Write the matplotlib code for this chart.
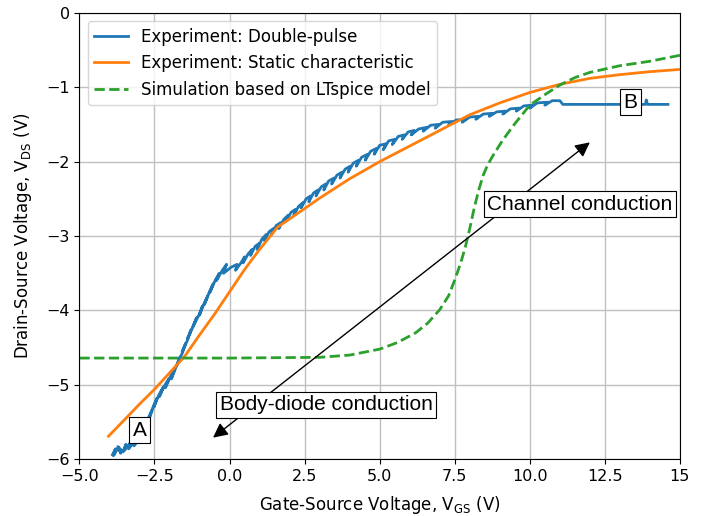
import matplotlib
matplotlib.use('Agg')
from matplotlib import pyplot as plt

# static characteristic (orange)
static_vgs = [-4.03, -3.5, -3.0, -2.5, -2.0, -1.5, -1.0, -0.5, 0.0, 0.5, 1.0, 1.6,
              2.0, 2.5, 3.0, 4.0, 5.0, 6.0, 7.0, 8.0, 9.0, 10.0, 11.0, 12.0, 13.0,
              14.0, 15.0]
static_vds = [-5.69, -5.47, -5.26, -5.06, -4.84, -4.62, -4.33, -4.05, -3.75, -3.45,
              -3.18, -2.88, -2.77, -2.63, -2.49, -2.23, -2.00, -1.79, -1.58, -1.37,
              -1.21, -1.07, -0.96, -0.88, -0.83, -0.79, -0.76]

# LTspice simulation (green dashed)
sim_vgs = [-5.0, 0.0, 3.0, 4.0, 5.0, 5.6, 6.2, 6.6, 7.0, 7.3, 7.5, 7.7, 7.85, 8.0,
           8.15, 8.3, 8.45, 8.6, 8.8, 9.1, 9.5, 10.0, 10.5, 11.0, 11.5, 12.0, 13.0,
           14.0, 15.0]
sim_vds = [-4.64, -4.64, -4.63, -4.60, -4.52, -4.43, -4.30, -4.17, -3.99, -3.80,
           -3.59, -3.36, -3.15, -2.90, -2.62, -2.38, -2.18, -2.04, -1.90, -1.71,
           -1.49, -1.24, -1.10, -0.97, -0.87, -0.80, -0.71, -0.65, -0.57]

# double-pulse measurement (blue, noisy)
dp_vgs = [-3.90, -3.80, -3.86, -3.70, -3.62, -3.72, -3.55, -3.45, -3.52, -3.38, -3.28, -3.36,
          -3.20, -3.10, -3.18, -3.02, -2.96, -3.04,
          -2.90, -2.76, -2.86, -2.70, -2.58, -2.70, -2.55, -2.42, -2.52, -2.36, -2.22, -2.34,
          -2.18, -2.02, -2.14, -1.96, -1.84, -1.94, -1.76, -1.64, -1.76, -1.58, -1.46, -1.58,
          -1.40, -1.28, -1.40, -1.22, -1.10, -1.22, -1.02, -0.90, -1.00, -0.84, -0.72, -0.84,
          -0.66, -0.54, -0.66, -0.46, -0.34, -0.44, -0.24, -0.10, -0.20,
          0.05, 0.25, 0.20, 0.38, 0.50, 0.45, 0.62, 0.75, 0.70, 0.85, 0.98, 0.92,
          1.08, 1.22, 1.16, 1.32, 1.46, 1.40, 1.55, 1.70, 1.64, 1.80, 1.95, 1.88,
          2.05, 2.20, 2.14, 2.30, 2.45, 2.38, 2.55, 2.70, 2.64, 2.80, 2.95, 2.88,
          3.05, 3.20, 3.14, 3.30, 3.48, 3.40, 3.58, 3.75, 3.68, 3.85, 4.02, 3.95,
          4.12, 4.30, 4.22, 4.40, 4.60, 4.52, 4.70, 4.90, 4.82, 5.00, 5.20, 5.12,
          5.30, 5.50, 5.42, 5.62, 5.82, 5.75, 5.95, 6.15, 6.05, 6.30, 6.55, 6.45,
          6.70, 6.95, 6.85, 7.10, 7.40, 7.30, 7.55, 7.85, 7.75, 8.00, 8.30, 8.20,
          8.45, 8.75, 8.65, 8.90, 9.20, 9.10, 9.35, 9.65, 9.55, 9.80, 10.10, 10.00,
          10.25, 10.60, 10.50, 10.75, 11.00, 11.10, 13.85, 13.88, 13.92, 14.60]
dp_vds = [-5.94, -5.86, -5.95, -5.84, -5.92, -5.83, -5.90, -5.80, -5.89, -5.82, -5.76, -5.86,
          -5.78, -5.72, -5.82, -5.74, -5.64, -5.76,
          -5.66, -5.52, -5.62, -5.44, -5.34, -5.48, -5.30, -5.18, -5.30, -5.14, -5.04, -5.16,
          -5.02, -4.92, -5.04, -4.88, -4.80, -4.92, -4.74, -4.62, -4.74, -4.58, -4.44, -4.56,
          -4.40, -4.26, -4.38, -4.22, -4.10, -4.22, -4.06, -3.94, -4.06, -3.90, -3.80, -3.92,
          -3.74, -3.64, -3.76, -3.58, -3.50, -3.60, -3.46, -3.38, -3.50,
          -3.42, -3.38, -3.46, -3.36, -3.28, -3.36, -3.24, -3.18, -3.26, -3.14, -3.10, -3.18,
          -3.04, -2.98, -3.06, -2.94, -2.90, -2.98, -2.86, -2.82, -2.90, -2.78, -2.72, -2.80,
          -2.68, -2.64, -2.72, -2.60, -2.55, -2.62, -2.50, -2.46, -2.54, -2.42, -2.38, -2.46,
          -2.34, -2.30, -2.38, -2.26, -2.22, -2.30, -2.18, -2.14, -2.22, -2.10, -2.06, -2.14,
          -2.02, -1.98, -2.06, -1.94, -1.90, -1.98, -1.86, -1.82, -1.90, -1.78, -1.76, -1.84,
          -1.72, -1.70, -1.77, -1.66, -1.64, -1.70, -1.60, -1.58, -1.64, -1.56, -1.54, -1.59,
          -1.51, -1.50, -1.55, -1.47, -1.46, -1.50, -1.44, -1.43, -1.47, -1.40, -1.39, -1.43,
          -1.36, -1.35, -1.39, -1.33, -1.32, -1.36, -1.29, -1.28, -1.32, -1.25, -1.24, -1.28,
          -1.21, -1.20, -1.24, -1.18, -1.18, -1.23, -1.23, -1.17, -1.23, -1.23]

x_ticks = [-5.0, -2.5, 0.0, 2.5, 5.0, 7.5, 10.0, 12.5, 15.0]
x_tick_labels = ['\u22125.0', '\u22122.5', '0.0', '2.5', '5.0', '7.5', '10.0', '12.5', '15']
y_ticks = [0, -1, -2, -3, -4, -5, -6]

fig = plt.figure(figsize=(7.09, 5.16), dpi=100)
ax = fig.add_axes([0.112, 0.110, 0.847, 0.865])

ax.plot(dp_vgs, dp_vds, color='#1f77b4', lw=2, label='Experiment: Double-pulse')
ax.plot(static_vgs, static_vds, color='#ff7f0e', lw=2, label='Experiment: Static characteristic')
ax.plot(sim_vgs, sim_vds, '--', color='#2ca02c', lw=2, label='Simulation based on LTspice model')

ax.set_xlim(-5, 15)
ax.set_ylim(-6, 0)
ax.set_xticks(x_ticks)
ax.set_xticklabels(x_tick_labels)
ax.set_yticks(y_ticks)
ax.tick_params(labelsize=11.5)
ax.grid(True, color='#c0c0c0', lw=1)
ax.set_xlabel(r'Gate-Source Voltage, V$_{\mathrm{GS}}$ (V)', fontsize=12, labelpad=7)
ax.set_ylabel(r'Drain-Source Voltage, V$_{\mathrm{DS}}$ (V)', fontsize=12, labelpad=9)
ax.legend(loc='upper left', fontsize=12)

# annotations drawn on top
ax.annotate('', xy=(12.0, -1.74), xytext=(-0.55, -5.71),
            arrowprops=dict(arrowstyle='<|-|>', color='black', lw=1,
                            mutation_scale=22, shrinkA=0, shrinkB=0))
box = dict(boxstyle='square,pad=0.18', facecolor='white', edgecolor='black', lw=0.8)
font = dict(family='Liberation Sans', fontsize=15, ha='center', va='center', bbox=box)
ax.text(11.67, -2.57, 'Channel conduction', **font)
ax.text(3.22, -5.27, 'Body-diode conduction', **font)
ax.text(-3.00, -5.61, 'A', **font)
ax.text(13.36, -1.20, 'B', **font)

plt.savefig('out.png', dpi=100)
